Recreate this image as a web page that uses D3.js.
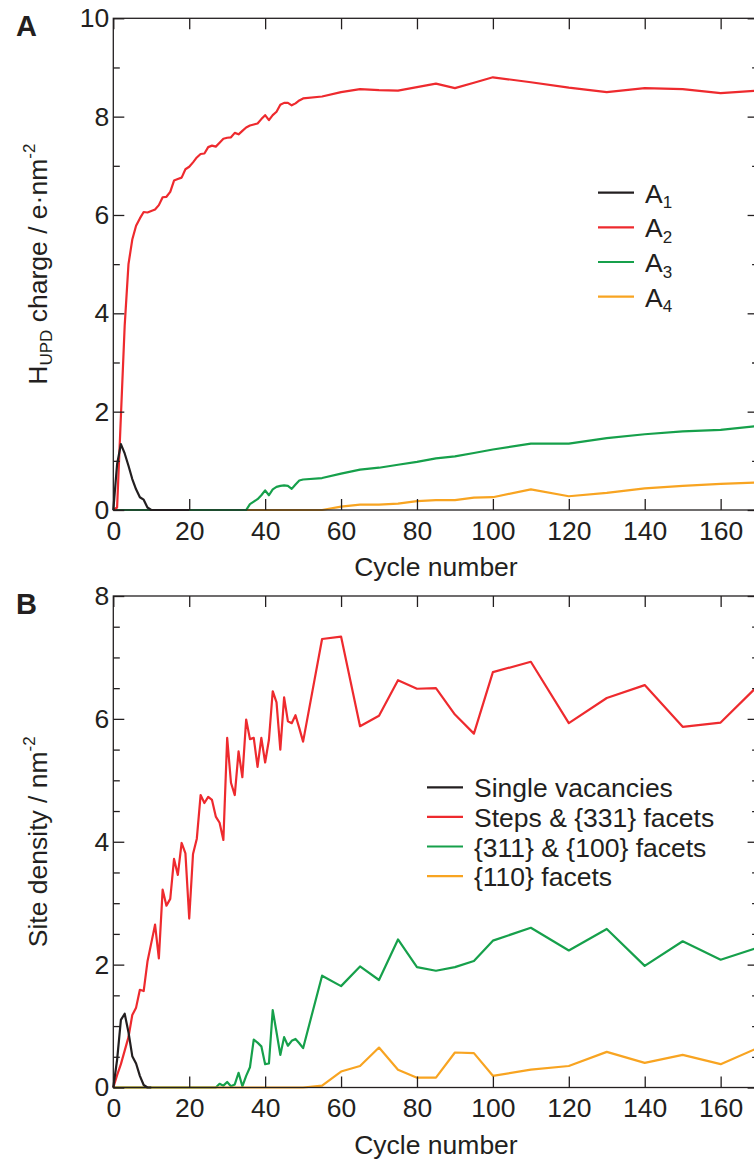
<!DOCTYPE html>
<html>
<head>
<meta charset="utf-8">
<script src="https://cdn.jsdelivr.net/npm/d3@7"></script>
<style>
  body { margin: 0; background: #fff; }
  text { font-family: "Liberation Sans", Arial, Helvetica, sans-serif; fill: #231f20; }
</style>
</head>
<body>
<svg id="chart" width="754" height="1163"></svg>
<script>
// cycle numbers shared by every series (values are paired by index)
const cycles = [
  0, 1, 2, 3, 4, 5, 6, 7, 8, 9,
  10, 11, 12, 13, 14, 15, 16, 17, 18, 19,
  20, 21, 22, 23, 24, 25, 26, 27, 28, 29,
  30, 31, 32, 33, 34, 35, 36, 37, 38, 39,
  40, 41, 42, 43, 44, 45, 46, 47, 48, 49,
  50, 55, 60, 65, 70, 75, 80, 85, 90, 95,
  100, 110, 120, 130, 140, 150, 160, 170
];

// Panel A: H_UPD charge (e nm^-2)
const chargeA1 = [0, 0.93, 1.34, 1.15, 0.9, 0.63, 0.42, 0.26, 0.21, 0.05, 0, 0, 0, 0, 0, 0, 0, 0, 0, 0, 0];
const chargeA2 = [
  0, 0.05, 1.9, 3.75, 5.0, 5.5, 5.78, 5.93, 6.06, 6.05,
  6.08, 6.11, 6.2, 6.36, 6.37, 6.47, 6.7, 6.73, 6.76, 6.93,
  6.98, 7.07, 7.17, 7.24, 7.25, 7.38, 7.41, 7.39, 7.47, 7.55,
  7.57, 7.58, 7.67, 7.64, 7.71, 7.78, 7.82, 7.84, 7.86, 7.95,
  8.03, 7.93, 8.03, 8.1, 8.24, 8.28, 8.28, 8.23, 8.27, 8.33,
  8.37, 8.41, 8.5, 8.56, 8.54, 8.53, 8.6, 8.67, 8.58, 8.69,
  8.8, 8.7, 8.59, 8.5, 8.58, 8.56, 8.48, 8.53
];
const chargeA3 = [
  0, 0, 0, 0, 0, 0, 0, 0, 0, 0,
  0, 0, 0, 0, 0, 0, 0, 0, 0, 0,
  0, 0, 0, 0, 0, 0, 0, 0, 0, 0,
  0, 0, 0, 0, 0, 0, 0.12, 0.17, 0.22, 0.3,
  0.4, 0.3, 0.42, 0.47, 0.49, 0.5, 0.49, 0.43, 0.52, 0.6,
  0.62, 0.65, 0.74, 0.82, 0.86, 0.92, 0.98, 1.05, 1.09, 1.16,
  1.23, 1.35, 1.35, 1.46, 1.54, 1.6, 1.63, 1.71
];
const chargeA4 = [
  0, 0, 0, 0, 0, 0, 0, 0, 0, 0,
  0, 0, 0, 0, 0, 0, 0, 0, 0, 0,
  0, 0, 0, 0, 0, 0, 0, 0, 0, 0,
  0, 0, 0, 0, 0, 0, 0, 0, 0, 0,
  0, 0, 0, 0, 0, 0, 0, 0, 0, 0,
  0, 0, 0.07, 0.11, 0.11, 0.13, 0.18, 0.2, 0.2, 0.25,
  0.26, 0.42, 0.28, 0.35, 0.44, 0.49, 0.53, 0.56
];

// Panel B: site density (nm^-2)
const densitySingle = [0, 0.45, 1.1, 1.2, 0.9, 0.51, 0.39, 0.19, 0.04, 0, 0];
const densitySteps = [
  0, 0.2, 0.38, 0.6, 0.82, 1.18, 1.3, 1.59, 1.57, 2.05,
  2.35, 2.65, 2.1, 3.22, 2.96, 3.07, 3.72, 3.46, 3.98, 3.81,
  2.75, 3.8, 4.05, 4.76, 4.63, 4.73, 4.68, 4.41, 4.31, 4.03,
  5.69, 4.96, 4.76, 5.47, 5.05, 5.99, 5.67, 5.69, 5.22, 5.69,
  5.29, 5.66, 6.45, 6.27, 5.5, 6.35, 5.96, 5.93, 6.06, 5.85,
  5.63, 7.3, 7.34, 5.88, 6.05, 6.63, 6.49, 6.5, 6.07, 5.76,
  6.76, 6.93, 5.93, 6.34, 6.55, 5.87, 5.94, 6.55
];
const density311 = [
  0, 0, 0, 0, 0, 0, 0, 0, 0, 0,
  0, 0, 0, 0, 0, 0, 0, 0, 0, 0,
  0, 0, 0, 0, 0, 0, 0, 0, 0.06, 0.03,
  0.09, 0.02, 0.05, 0.24, 0.02, 0.19, 0.33, 0.78, 0.73, 0.67,
  0.38, 0.39, 1.26, 0.9, 0.53, 0.82, 0.68, 0.76, 0.79, 0.72,
  0.64, 1.82, 1.65, 1.97, 1.75, 2.41, 1.96, 1.9, 1.96, 2.06,
  2.39, 2.6, 2.23, 2.58, 1.98, 2.38, 2.08, 2.28
];
const density110 = [
  0, 0, 0, 0, 0, 0, 0, 0, 0, 0,
  0, 0, 0, 0, 0, 0, 0, 0, 0, 0,
  0, 0, 0, 0, 0, 0, 0, 0, 0, 0,
  0, 0, 0, 0, 0, 0, 0, 0, 0, 0,
  0, 0, 0, 0, 0, 0, 0, 0, 0, 0,
  0, 0.03, 0.26, 0.35, 0.65, 0.29, 0.16, 0.16, 0.57, 0.56,
  0.19, 0.29, 0.35, 0.58, 0.4, 0.53, 0.38, 0.65
];

const xTicks = [0, 20, 40, 60, 80, 100, 120, 140, 160];
const legendA = ['1', '2', '3', '4'];
const legendB = ['Single vacancies', 'Steps & {331} facets', '{311} & {100} facets', '{110} facets'];

const ink = '#231f20';
const colors = { black: '#231f20', red: '#ee2a2e', green: '#16a04b', orange: '#f8a421' };

const svg = d3.select('#chart');
const x = d3.scaleLinear().domain([0, 170]).range([113.3, 758.6]);

function drawPanel(cfg) {
  const y = d3.scaleLinear().domain([0, cfg.yMax]).range([cfg.bottom, cfg.top]);
  const g = svg.append('g');

  // series lines
  const line = d3.line()
    .x((d, i) => x(cycles[i]))
    .y(d => y(d));
  cfg.series.forEach(s => {
    g.append('path')
      .datum(s.values)
      .attr('d', line)
      .attr('fill', 'none')
      .attr('stroke', s.color)
      .attr('stroke-width', 2.2)
      .attr('stroke-linejoin', 'round');
  });

  // frame + ticks on all four sides, pointing inward
  const axes = [
    [d3.axisLeft(y).tickValues(cfg.yMajor).tickSize(-11).tickPadding(4), `translate(${x(0)},0)`],
    [d3.axisLeft(y).tickValues(cfg.yMinor).tickSize(-6.5).tickFormat(''), `translate(${x(0)},0)`],
    [d3.axisRight(y).tickValues(cfg.yMajor).tickSize(-11).tickFormat(''), `translate(${x(170)},0)`],
    [d3.axisRight(y).tickValues(cfg.yMinor).tickSize(-6.5).tickFormat(''), `translate(${x(170)},0)`],
    [d3.axisBottom(x).tickValues(xTicks).tickSize(-11).tickPadding(11), `translate(0,${cfg.bottom})`],
    [d3.axisTop(x).tickValues(xTicks).tickSize(-11).tickFormat(''), `translate(0,${cfg.top})`]
  ];
  axes.forEach(([axis, tr]) => {
    const a = g.append('g').attr('transform', tr).call(axis);
    a.select('.domain').remove();
    a.selectAll('line').attr('stroke', ink).attr('stroke-width', 1.3);
    a.selectAll('text').attr('font-size', 26.5).attr('fill', ink)
      .style('font-family', '"Liberation Sans", Arial, sans-serif');
  });

  g.append('rect')
    .attr('x', x(0)).attr('y', cfg.top)
    .attr('width', x(170) - x(0)).attr('height', cfg.bottom - cfg.top)
    .attr('fill', 'none').attr('stroke', ink).attr('stroke-width', 1.3);

  // x title
  g.append('text')
    .attr('x', (x(0) + x(170)) / 2)
    .attr('y', cfg.bottom + 66)
    .attr('text-anchor', 'middle')
    .attr('font-size', 26.5)
    .text('Cycle number');

  // panel letter
  g.append('text')
    .attr('x', 16).attr('y', cfg.top + 18)
    .attr('font-size', 29).attr('font-weight', 'bold')
    .text(cfg.letter);

  // y title
  const yt = g.append('text')
    .attr('transform', `translate(47,${(cfg.top + cfg.bottom) / 2}) rotate(-90)`)
    .attr('text-anchor', 'middle')
    .attr('font-size', 26.5);
  cfg.yTitle(yt);

  // legend
  cfg.legend.forEach((item, i) => {
    const ry = cfg.legendY + i * cfg.legendStep;
    g.append('line')
      .attr('x1', cfg.legendX).attr('x2', cfg.legendX + 36)
      .attr('y1', ry).attr('y2', ry)
      .attr('stroke', item.color).attr('stroke-width', 2.2);
    const t = g.append('text')
      .attr('x', cfg.legendX + 47).attr('y', ry + 10)
      .attr('font-size', 26.5);
    item.label(t);
  });
}

drawPanel({
  letter: 'A',
  top: 18.3, bottom: 510, yMax: 10,
  yMajor: [0, 2, 4, 6, 8, 10],
  yMinor: [1, 3, 5, 7, 9],
  series: [
    { values: chargeA4, color: colors.orange },
    { values: chargeA3, color: colors.green },
    { values: chargeA2, color: colors.red },
    { values: chargeA1, color: colors.black }
  ],
  legendX: 598, legendY: 192.6, legendStep: 34.7,
  legend: legendA.map((n, i) => ({
    color: [colors.black, colors.red, colors.green, colors.orange][i],
    label: t => {
      t.append('tspan').text('A');
      t.append('tspan').attr('font-size', 17).attr('dy', 5.5).text(n);
    }
  })),
  yTitle: t => {
    t.append('tspan').text('H');
    t.append('tspan').attr('font-size', 17).attr('dy', 5).text('UPD');
    t.append('tspan').attr('dy', -5).text(' charge / e\u00b7nm');
    t.append('tspan').attr('font-size', 17).attr('dy', -12).text('-2');
  }
});

drawPanel({
  letter: 'B',
  top: 596, bottom: 1087.5, yMax: 8,
  yMajor: [0, 2, 4, 6, 8],
  yMinor: [0.5, 1, 1.5, 2.5, 3, 3.5, 4.5, 5, 5.5, 6.5, 7, 7.5],
  series: [
    { values: density311, color: colors.green },
    { values: density110, color: colors.orange },
    { values: densitySteps, color: colors.red },
    { values: densitySingle, color: colors.black }
  ],
  legendX: 427, legendY: 787.3, legendStep: 29.6,
  legend: legendB.map((name, i) => ({
    color: [colors.black, colors.red, colors.green, colors.orange][i],
    label: t => t.text(name)
  })),
  yTitle: t => {
    t.append('tspan').text('Site density / nm');
    t.append('tspan').attr('font-size', 17).attr('dy', -12).text('-2');
  }
});
</script>
</body>
</html>
